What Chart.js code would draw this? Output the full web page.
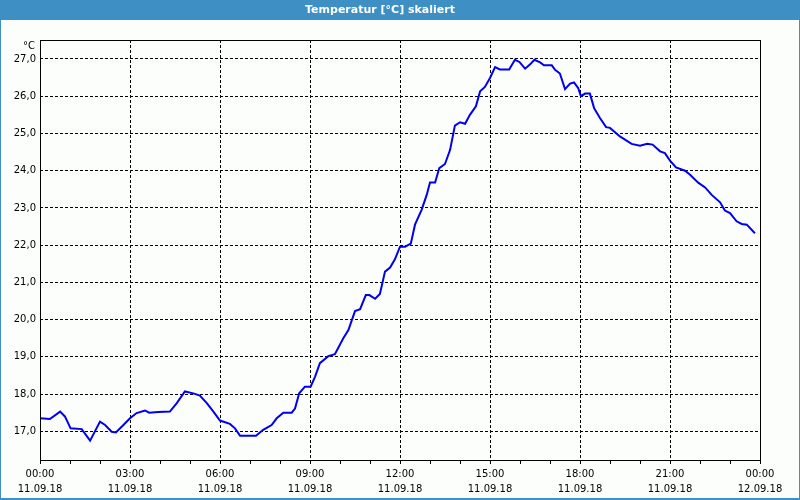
<!DOCTYPE html>
<html>
<head>
<meta charset="utf-8">
<script src="https://cdn.jsdelivr.net/npm/chart.js"></script>
<style>
  body { margin: 0; background: #fff; }
  canvas { display: block; }
</style>
</head>
<body>
<canvas id="chart" width="800" height="500"></canvas>
<script>
// Stunden seit 11.09.18 00:00
const hours = [
  0.00, 0.33, 0.67, 0.83, 1.02, 1.39, 1.67, 2.00, 2.17, 2.39, 2.53, 2.78,
  3.00, 3.22, 3.50, 3.64, 3.94, 4.33, 4.56, 4.83, 5.11, 5.33, 5.56, 5.78,
  6.00, 6.33, 6.50, 6.67, 7.20, 7.44, 7.72, 7.89, 8.11, 8.39, 8.50, 8.64,
  8.83, 9.02, 9.17, 9.33, 9.61, 9.83, 10.11, 10.28, 10.50, 10.67, 10.86, 10.98,
  11.17, 11.33, 11.50, 11.67, 11.83, 12.00, 12.17, 12.36, 12.50, 12.72, 12.89, 13.00,
  13.17, 13.31, 13.50, 13.67, 13.83, 14.00, 14.17, 14.33, 14.53, 14.67, 14.83, 15.00,
  15.17, 15.33, 15.64, 15.83, 15.98, 16.17, 16.33, 16.48, 16.67, 16.80, 17.06, 17.17,
  17.33, 17.50, 17.67, 17.80, 17.94, 18.03, 18.17, 18.33, 18.47, 18.67, 18.87, 19.00,
  19.33, 19.72, 20.00, 20.24, 20.42, 20.67, 20.83, 21.00, 21.20, 21.50, 21.67, 21.94,
  22.17, 22.39, 22.67, 22.83, 23.00, 23.22, 23.39, 23.56, 23.83
];
const temps = [
  17.35, 17.33, 17.53, 17.40, 17.08, 17.06, 16.75, 17.26, 17.17, 16.99, 16.97, 17.17,
  17.35, 17.49, 17.56, 17.50, 17.52, 17.53, 17.76, 18.07, 18.02, 17.96, 17.76, 17.53,
  17.29, 17.20, 17.08, 16.88, 16.88, 17.04, 17.17, 17.35, 17.50, 17.50, 17.61, 18.02,
  18.20, 18.20, 18.47, 18.83, 19.02, 19.07, 19.50, 19.72, 20.23, 20.28, 20.66, 20.66,
  20.56, 20.69, 21.29, 21.40, 21.62, 21.96, 21.96, 22.04, 22.55, 22.95, 23.35, 23.68,
  23.68, 24.07, 24.18, 24.56, 25.21, 25.30, 25.26, 25.50, 25.73, 26.13, 26.25, 26.49,
  26.78, 26.72, 26.72, 26.98, 26.92, 26.74, 26.85, 26.98, 26.91, 26.83, 26.83, 26.71,
  26.61, 26.19, 26.34, 26.37, 26.22, 26.00, 26.07, 26.07, 25.68, 25.41, 25.17, 25.15,
  24.92, 24.72, 24.67, 24.72, 24.70, 24.52, 24.47, 24.27, 24.09, 24.00, 23.89, 23.68,
  23.55, 23.35, 23.15, 22.93, 22.86, 22.64, 22.57, 22.55, 22.32
];
const dates = ['11.09.18', '12.09.18'];
const yTicks = [17, 18, 19, 20, 21, 22, 23, 24, 25, 26, 27];

const font = 'DejaVu Sans';

// Hintergrund, Titelleiste, Rahmen
const frame = {
  id: 'frame',
  beforeDraw(chart) {
    const { ctx, width, height } = chart;
    ctx.save();
    ctx.fillStyle = '#fcfefc';
    ctx.fillRect(0, 0, width, height);
    ctx.fillStyle = '#3d8fc4';
    ctx.fillRect(0, 0, width, 20);
    ctx.fillRect(0, 0, 1, height);
    ctx.fillRect(width - 1, 0, 1, height);
    ctx.fillRect(0, height - 2, width, 2);
    ctx.restore();
  },
  afterDraw(chart) {
    const { ctx, chartArea: a } = chart;
    ctx.save();
    ctx.strokeStyle = '#000';
    ctx.lineWidth = 1;
    ctx.strokeRect(Math.round(a.left) + 0.5, Math.round(a.top) + 0.5,
      Math.round(a.right - a.left), Math.round(a.bottom - a.top));
    ctx.fillStyle = '#000';
    ctx.font = '10px "' + font + '"';
    ctx.textAlign = 'right';
    ctx.textBaseline = 'middle';
    ctx.fillText('°C', 35, 46);
    ctx.restore();
  }
};

new Chart(document.getElementById('chart'), {
  type: 'line',
  data: {
    datasets: [{
      data: hours.map((h, i) => ({ x: h, y: temps[i] })),
      borderColor: '#0000ee',
      borderWidth: 2,
      pointRadius: 0,
      tension: 0,
      fill: false
    }]
  },
  options: {
    responsive: false,
    animation: false,
    devicePixelRatio: 1,
    layout: { padding: { left: 0, right: 40, top: 0, bottom: 0 } },
    plugins: {
      legend: { display: false },
      tooltip: { enabled: false },
      title: {
        display: true,
        text: 'Temperatur [°C] skaliert',
        color: '#fff',
        font: { family: font, size: 11, weight: 'bold' },
        padding: { top: 4, bottom: 22.8 }
      }
    },
    scales: {
      x: {
        type: 'linear',
        min: 0,
        max: 24,
        afterFit: (s) => { s.height = 40; },
        ticks: {
          stepSize: 1,
          autoSkip: false,
          maxRotation: 0,
          padding: 3,
          color: '#000',
          font: { family: font, size: 10, lineHeight: 1.5 },
          callback: (v) => {
            if (v % 3 !== 0) return '';
            const hh = String(v % 24).padStart(2, '0');
            return [hh + ':00', dates[v < 24 ? 0 : 1]];
          }
        },
        grid: {
          color: (c) => (c.tick && c.tick.value % 3 === 0 && c.tick.value > 0 && c.tick.value < 24) ? '#000' : 'transparent',
          tickColor: '#000',
          tickLength: 4,
          lineWidth: 1
        },
        border: { display: false, dash: [3, 2] }
      },
      y: {
        min: 16.23,
        max: 27.51,
        afterFit: (s) => { s.width = 40; },
        afterBuildTicks: (s) => { s.ticks = yTicks.map((v) => ({ value: v })); },
        ticks: {
          padding: 4,
          color: '#000',
          font: { family: font, size: 10 },
          callback: (v) => v.toFixed(1).replace('.', ',')
        },
        grid: {
          color: '#000',
          drawTicks: false,
          lineWidth: 1
        },
        border: { display: false, dash: [3, 2] }
      }
    }
  },
  plugins: [frame]
});
</script>
</body>
</html>
